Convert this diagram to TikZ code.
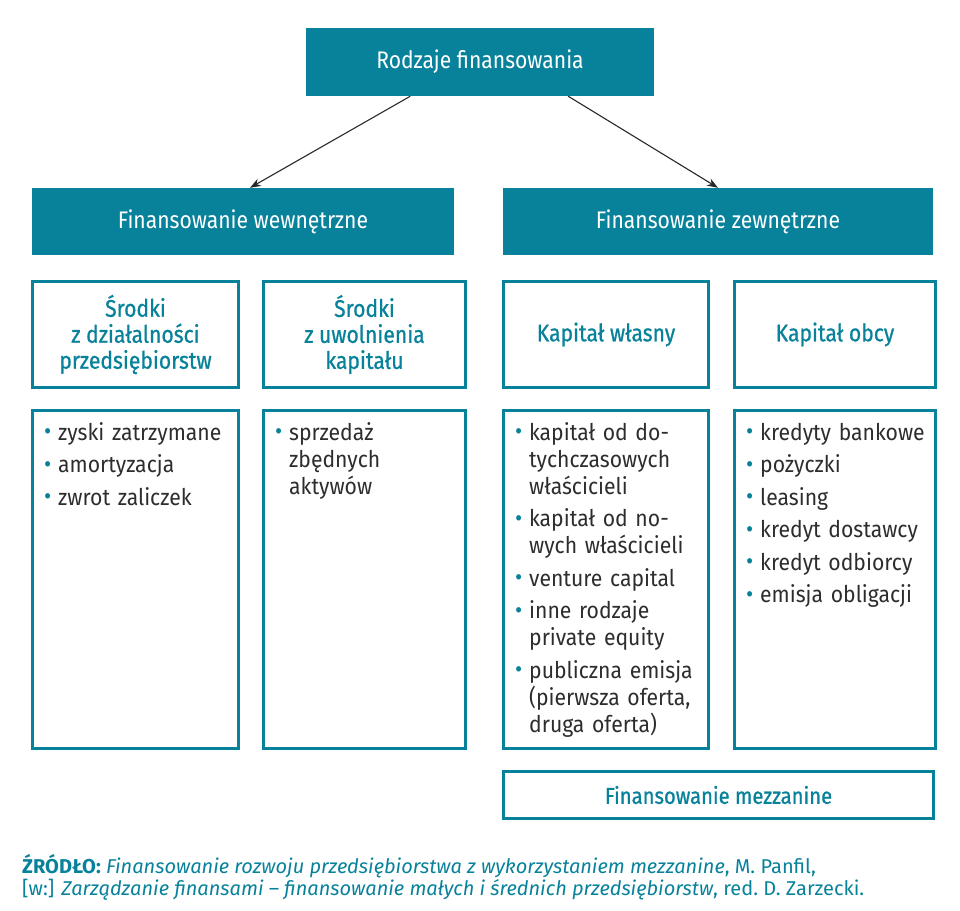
\documentclass[tikz,border=0pt]{standalone}
\usepackage{fontspec}
\setmainfont{Fira Sans}
\newfontfamily\headfont[FakeStretch=0.88]{Fira Sans}
\newfontfamily\headmedfont[FakeStretch=0.88, FakeBold=0.8]{Fira Sans}
\newfontfamily\bodyfont[FakeStretch=0.92]{Fira Sans}
\newfontfamily\notefont{Fira Sans}
\usepackage{xcolor}
\usetikzlibrary{arrows.meta, positioning, calc}
\definecolor{myteal}{RGB}{8, 130, 155}
\definecolor{mytext}{RGB}{45, 45, 45}
\definecolor{myarrow}{RGB}{40, 40, 40}

% punkt listy
\newcommand{\itm}[1]{\par\hangindent=14pt\hangafter=1\noindent
  \makebox[14pt][l]{\textcolor{myteal}{\fontsize{24}{24}\selectfont\raisebox{0.05ex}{•}}}#1\par\vspace{5.5pt}}

\tikzset{
  fillbox/.style={rectangle, fill=myteal, text=white, inner sep=0pt,
    font=\headfont\fontsize{24}{28}\selectfont},
  headbox/.style={rectangle, draw=myteal, line width=3pt, fill=white, text=myteal,
    inner sep=0pt, align=center, font=\headmedfont\fontsize{24}{26}\selectfont},
  listbox/.style={rectangle, draw=myteal, line width=3pt, fill=white, inner sep=0pt,
    minimum height=338pt},
  listtext/.style={anchor=north west, text width=190pt, align=left, inner sep=0pt,
    text=mytext, font=\bodyfont\fontsize{23}{27}\selectfont},
}

\begin{document}
\begin{tikzpicture}[x=1pt, y=1pt]
    \useasboundingbox (0,0) rectangle (960,-910);

    % rodzaje
    \node[fillbox, minimum width=348pt, minimum height=68pt] (top) at (480,-62) {Rodzaje finansowania};
    \node[fillbox, minimum width=422pt, minimum height=67pt] (intern) at (243,-221.5) {Finansowanie wewnętrzne};
    \node[fillbox, minimum width=430pt, minimum height=67pt] (extern) at (718,-221.5) {Finansowanie zewnętrzne};
    \draw[-{Stealth[length=11pt, width=8pt]}, myarrow, line width=1.1pt]
        ($(top.south west)!0.3!(top.south east)$) -- ($(intern.north)+(7,0)$);
    \draw[-{Stealth[length=11pt, width=8pt]}, myarrow, line width=1.1pt]
        ($(top.south west)!0.753!(top.south east)$) -- (extern.north);

    % naglowki
    \node[headbox, minimum width=206pt, minimum height=106pt] (h1) at (135.5,-334.5) {Środki\\z działalności\\przedsiębiorstw};
    \node[headbox, minimum width=202pt, minimum height=106pt] (h2) at (364.5,-334.5) {Środki\\z uwolnienia\\kapitału};
    \node[headbox, minimum width=205pt, minimum height=106pt] (h3) at (606,-334.5) {Kapitał własny};
    \node[headbox, minimum width=201pt, minimum height=106pt] (h4) at (835,-334.5) {Kapitał obcy};

    % listy
    \node[listbox, minimum width=206pt] (c1) at (135.5,-579.5) {};
    \node[listbox, minimum width=202pt] (c2) at (364.5,-579.5) {};
    \node[listbox, minimum width=205pt] (c3) at (606,-579.5) {};
    \node[listbox, minimum width=201pt] (c4) at (835,-579.5) {};
    \node[listtext] (l1) at ($(c1.north west)+(13,-4)$) {%
        \itm{zyski zatrzymane}\itm{amortyzacja}\itm{zwrot zaliczek}};
    \node[listtext] (l2) at ($(c2.north west)+(13,-4)$) {%
        \itm{sprzedaż\newline zbędnych\newline aktywów}};
    \node[listtext] (l3) at ($(c3.north west)+(13,-4)$) {%
        \itm{kapitał od do-\newline tychczasowych\newline właścicieli}\itm{kapitał od no-\newline wych właścicieli}%
        \itm{venture capital}\itm{inne rodzaje\newline private equity}%
        \itm{publiczna emisja\newline (pierwsza oferta,\newline druga oferta)}};
    \node[listtext] (l4) at ($(c4.north west)+(13,-4)$) {%
        \itm{kredyty bankowe}\itm{pożyczki}\itm{leasing}\itm{kredyt dostawcy}%
        \itm{kredyt odbiorcy}\itm{emisja obligacji}};

    % mezzanine
    \node[headbox, minimum width=430pt, minimum height=47pt, font=\headmedfont\fontsize{23}{26}\selectfont] (mezz) at (718.5,-795) {Finansowanie mezzanine};

    % zrodlo
    \node[anchor=north west, inner sep=0pt, align=left, text=myteal,
          font=\notefont\fontsize{20}{22.5}\selectfont] (src) at (22,-854)
        {\textbf{ŹRÓDŁO:} \textit{Finansowanie rozwoju przedsiębiorstwa z wykorzystaniem mezzanine}, M.~Panfil,\\
         {[}w:{]} \textit{Zarządzanie finansami – finansowanie małych i średnich przedsiębiorstw}, red.~D.~Zarzecki.};
\end{tikzpicture}
\end{document}
